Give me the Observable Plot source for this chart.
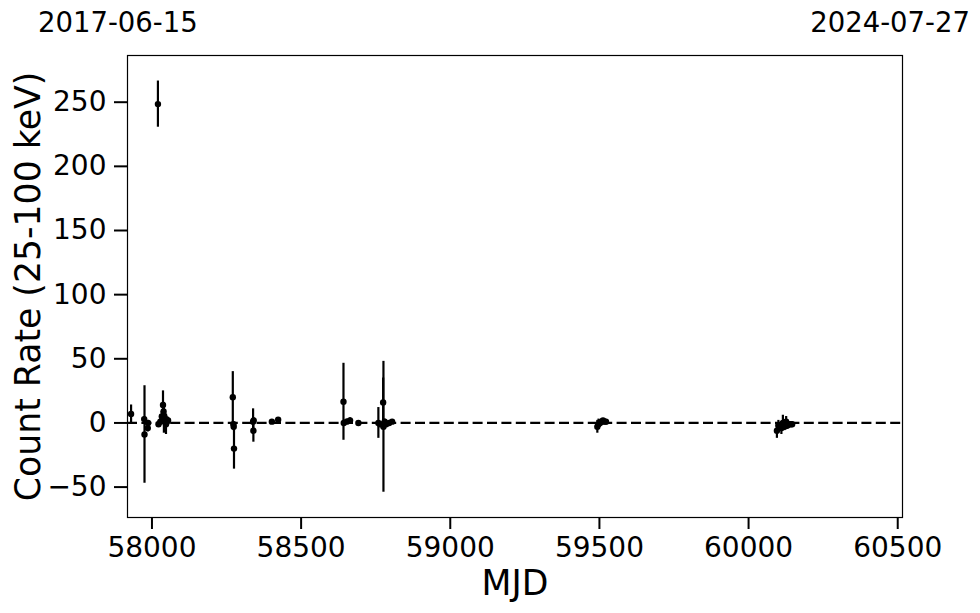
<!DOCTYPE html>
<html>
<head>
<meta charset="utf-8">
<script src="https://cdn.jsdelivr.net/npm/d3@7"></script>
<script src="https://cdn.jsdelivr.net/npm/@observablehq/plot@0.6"></script>
<style>
  html, body { margin: 0; padding: 0; background: white; }
</style>
</head>
<body>
<div id="chart"></div>
<script>
// Observation epochs (MJD), count rates (25-100 keV) and 1-sigma errors
const mjd = [
  57930, 57974, 57975, 57986, 57987,
  58020, 58022, 58028, 58033, 58037, 58039, 58040, 58045, 58047, 58048, 58050, 58054,
  58271, 58273, 58274, 58275,
  58339, 58340, 58341, 58402, 58423,
  58642, 58643, 58653, 58664, 58692,
  58759, 58765, 58775, 58776, 58780, 58785, 58795, 58805,
  59493, 59497, 59502, 59507, 59512, 59518, 59522,
  60095, 60100, 60110, 60115, 60120, 60126, 60130, 60136, 60142, 60146
];
const rate = [
  7, 3, -9, -4, 0,
  248.5, -1, 1, 5, 14, 9, 4, 2, -1, 3, 1, 2,
  20, -1, -3, -20,
  1, -6, 2, 1, 2.5,
  16.5, 0, 1, 2, 0,
  0, -1, 16, -3, 1, -1, 0, 1,
  -3, -1, 0, 1, 2, 1, 1,
  -6, -2, -4, 0, -3, 1, -2, -1, -1, -1
];
const err = [
  7, 2, 38, 3, 2,
  18, 2, 2, 4, 11, 4, 12, 3, 8, 3, 2, 2,
  20, 2, 3, 16,
  10, 9, 2, 1, 1,
  30, 2, 2, 2, 1,
  12, 2, 19, 51, 2, 2, 1, 1,
  5, 4, 2, 2, 1, 1, 1,
  6, 4, 5, 6, 3, 4, 3, 2, 1, 1
];
const xTicks = [58000, 58500, 59000, 59500, 60000, 60500];
const yTicks = [-50, 0, 50, 100, 150, 200, 250];
const dateLabels = ["2017-06-15", "2024-07-27"];
const dateMjd = [57919, 60518];
const xLabel = "MJD";
const yLabel = "Count Rate (25-100 keV)";

const data = mjd.map((m, i) => ({mjd: m, rate: rate[i], err: err[i]}));
const fmt = d3.format("d");

const chart = Plot.plot({
  width: 980,
  height: 613,
  marginLeft: 127,
  marginRight: 78,
  marginTop: 55,
  marginBottom: 96,
  style: {fontFamily: "DejaVu Sans", background: "white", color: "black", overflow: "visible"},
  x: {domain: [57918, 60516]},
  y: {domain: [-73.7, 286.4]},
  marks: [
    Plot.axisX({ticks: xTicks, tickFormat: fmt, tickSize: 12, tickPadding: 8, fontSize: 28, strokeWidth: 2, label: null}),
    Plot.axisY({ticks: yTicks, tickFormat: fmt, tickSize: 13, tickPadding: 8, fontSize: 28, strokeWidth: 2, label: null}),
    Plot.frame({stroke: "black", strokeWidth: 1.2}),
    Plot.ruleY([0], {stroke: "black", strokeWidth: 2.2, strokeDasharray: "10,4.4"}),
    Plot.ruleX(data, {x: "mjd", y1: d => d.rate - d.err, y2: d => d.rate + d.err, stroke: "black", strokeWidth: 2.2}),
    Plot.dot(data, {x: "mjd", y: "rate", r: 3.2, fill: "black", stroke: "none"}),
    Plot.text([dateLabels[0]], {x: [dateMjd[0]], text: d => d, frameAnchor: "top", dy: -32, dx: -10, fontSize: 27.5, lineAnchor: "middle"}),
    Plot.text([dateLabels[1]], {x: [dateMjd[1]], text: d => d, frameAnchor: "top", dy: -32, dx: -13, fontSize: 27.5, lineAnchor: "middle"}),
    Plot.text([xLabel], {text: d => d, frameAnchor: "bottom", dy: 66, fontSize: 34.7, lineAnchor: "middle"}),
    Plot.text([yLabel], {text: d => d, frameAnchor: "left", dx: -99, rotate: -90, fontSize: 34.7, textAnchor: "middle", lineAnchor: "middle"})
  ]
});
document.getElementById("chart").appendChild(chart);
</script>
</body>
</html>
